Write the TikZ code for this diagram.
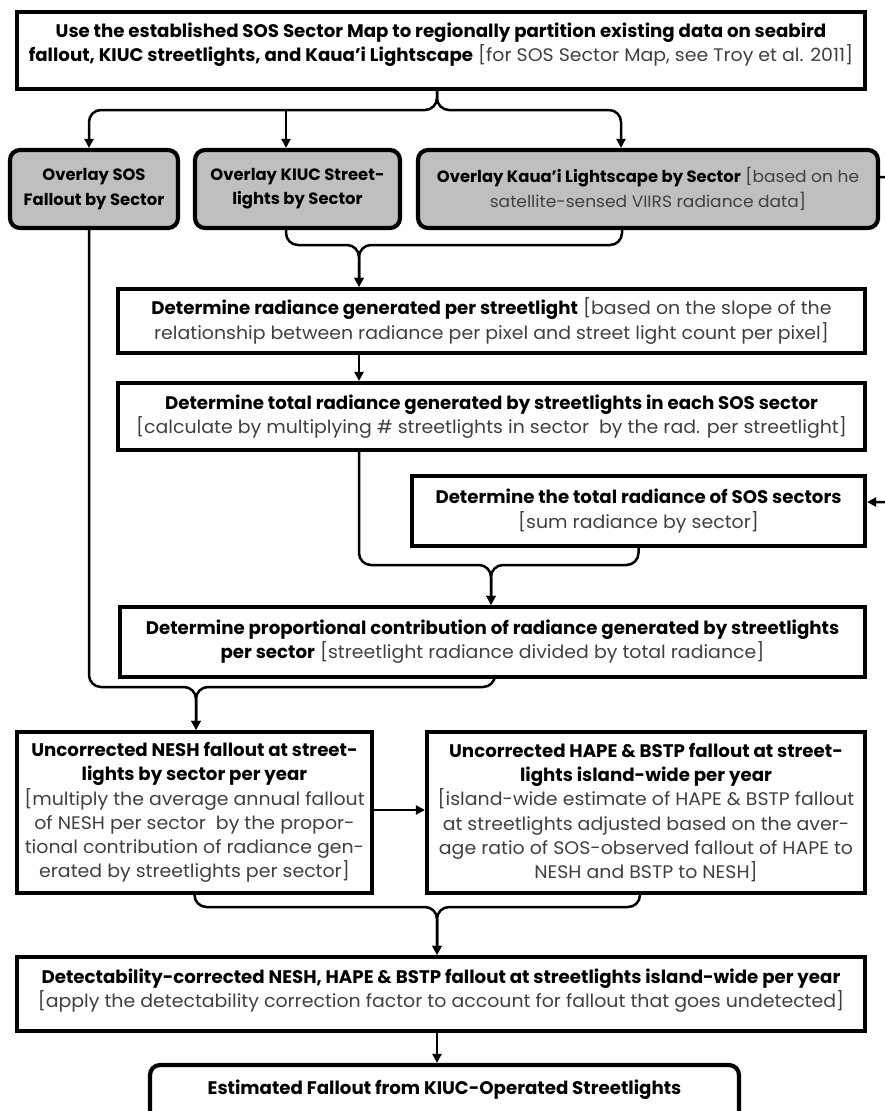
\documentclass[tikz,border=0pt]{standalone}
\usepackage{fontspec}
\setmainfont{Poppins}[UprightFeatures={FakeStretch=1.04}]
\usetikzlibrary{arrows.meta}
\definecolor{txtgray}{HTML}{404040}
\definecolor{boxgray}{HTML}{BFBFBF}
\newcommand\gtxt[1]{{\color{txtgray}#1}}
\begin{document}
\begin{tikzpicture}[x=1pt,y=-1pt,
  box/.style={draw=black, line width=4.2pt, fill=white, align=center, inner sep=0pt,
    font=\fontsize{18.2}{24.3}\selectfont},
  gbox/.style={box, fill=boxgray, rounded corners=10pt, font=\fontsize{16.4}{24.3}\selectfont},
  link/.style={line width=2.5pt, rounded corners=12pt},
  arr/.style={link, -{Triangle[length=9pt,width=9pt]}}]
\useasboundingbox (0,0) rectangle (885,1111);

% ---------- boxes ----------
\node[box, minimum width=848pt, minimum height=77pt, text depth=16pt] (top) at (441,50.5)
 {\textbf{Use the established SOS Sector Map to regionally partition existing data on seabird}\\
  \textbf{fallout, KIUC streetlights, and Kaua'i Lightscape} \gtxt{[for SOS Sector Map, see Troy et al. 2011]}};

\node[gbox, minimum width=168pt, minimum height=78pt] (gA) at (94,189)
 {\textbf{Overlay SOS}\\\textbf{Fallout by Sector}};
\node[gbox, minimum width=205pt, minimum height=78pt] (gB) at (297.5,189)
 {\textbf{Overlay KIUC Street-}\\\textbf{lights by Sector}};
\node[gbox, minimum width=460pt, minimum height=78pt] (gC) at (648,189)
 {\textbf{Overlay Kaua'i Lightscape by Sector} \gtxt{[based on he}\\
  \gtxt{satellite-sensed VIIRS radiance data]}};

\node[box, minimum width=747pt, minimum height=64pt] (r1) at (491.5,321)
 {\textbf{Determine radiance generated per streetlight} \gtxt{[based on the slope of the}\\
  \gtxt{relationship between radiance per pixel and street light count per pixel]}};
\node[box, minimum width=747pt, minimum height=67pt] (r2) at (491.5,416.5)
 {\textbf{Determine total radiance generated by streetlights in each SOS sector}\\
  \gtxt{[calculate by multiplying \# streetlights in sector\ \ by the rad. per streetlight]}};
\node[box, minimum width=453pt, minimum height=70pt] (r3) at (638.5,511)
 {\textbf{Determine the total radiance of SOS sectors}\\
  \gtxt{[sum radiance by sector]}};
\node[box, minimum width=745pt, minimum height=70pt] (r5) at (492.5,642)
 {\textbf{Determine proportional contribution of radiance generated by streetlights}\\
  \textbf{per sector} \gtxt{[streetlight radiance divided by total radiance]}};

\node[box, minimum width=355pt, minimum height=161pt] (nesh) at (194.5,812.5)
 {\textbf{Uncorrected NESH fallout at street-}\\
  \textbf{lights by sector per year}\\
  \gtxt{[multiply the average annual fallout}\\
  \gtxt{of NESH per sector\ \ by the propor-}\\
  \gtxt{tional contribution of radiance gen-}\\
  \gtxt{erated by streetlights per sector]}};
\node[box, minimum width=438pt, minimum height=161pt] (hape) at (646,812.5)
 {\textbf{Uncorrected HAPE \& BSTP fallout at street-}\\
  \textbf{lights island-wide per year}\\
  \gtxt{[island-wide estimate of HAPE \& BSTP fallout}\\
  \gtxt{at streetlights adjusted based on the aver-}\\
  \gtxt{age ratio of SOS-observed fallout of HAPE to}\\
  \gtxt{NESH and BSTP to NESH]}};

\node[box, minimum width=848pt, minimum height=74pt, text depth=12pt] (det) at (441,994)
 {\textbf{Detectability-corrected NESH, HAPE \& BSTP fallout at streetlights island-wide per year}\\
  \gtxt{[apply the detectability correction factor to account for fallout that goes undetected]}};

\node[box, rounded corners=10pt, minimum width=589pt, minimum height=62pt, text depth=18pt] (fin) at (444.5,1096)
 {\textbf{Estimated Fallout from KIUC-Operated Streetlights}};

% ---------- connector end points ----------
\coordinate (aN) at ([xshift=-5pt]gA.north);
\coordinate (aS) at ([xshift=-5pt]gA.south);
\coordinate (bN) at ([xshift=-11.5pt]gB.north);
\coordinate (bS) at ([xshift=-11.5pt]gB.south);
\coordinate (cN) at ([xshift=-27pt]gC.north);
\coordinate (cS) at ([xshift=-26pt]gC.south);
\coordinate (r3E) at ([yshift=9pt]r3.east);
\coordinate (r5S) at ([xshift=2.5pt]r5.south);
\coordinate (nE) at ([yshift=2.5pt]nesh.east);
\coordinate (hW) at ([yshift=2.5pt]hape.west);
\coordinate (hS) at ([xshift=-6pt]hape.south);

% ---------- connectors ----------
\coordinate (b1) at (437,110);
\draw[arr] (top.south -| b1) -- (b1) -| (aN);
\draw[arr] (top.south -| b1) -- (b1) -| (cN);
\draw[arr] (b1 -| bN) -- (bN);

\coordinate (b2) at (359,245);
\draw[arr] (bS) |- (b2) -- (r1.north -| b2);
\draw[arr] (cS) |- (b2) -- (r1.north -| b2);

\draw[arr] (r1.south -| b2) -- (r2.north -| b2);

\coordinate (rc) at (905,177);
\draw[arr] (gC.east |- rc) -- (rc) |- (r3E);

\coordinate (b3) at (491,565);
\draw[arr] (r2.south -| b2) |- (b3) -- (r5.north -| b3);
\draw[arr] (r3.south) |- (b3) -- (r5.north -| b3);

\coordinate (b4) at (196,687);
\draw[arr] (aS) |- (b4) -- (nesh.north -| b4);
\draw[arr] (r5S) |- (b4) -- (nesh.north -| b4);

\draw[arr] (nE) -- (hW);

\coordinate (b5) at (437,907);
\draw[arr] (nesh.south) |- (b5) -- (det.north -| b5);
\draw[arr] (hS) |- (b5) -- (det.north -| b5);

\draw[arr] (det.south -| b5) -- (fin.north -| b5);
\end{tikzpicture}
\end{document}
